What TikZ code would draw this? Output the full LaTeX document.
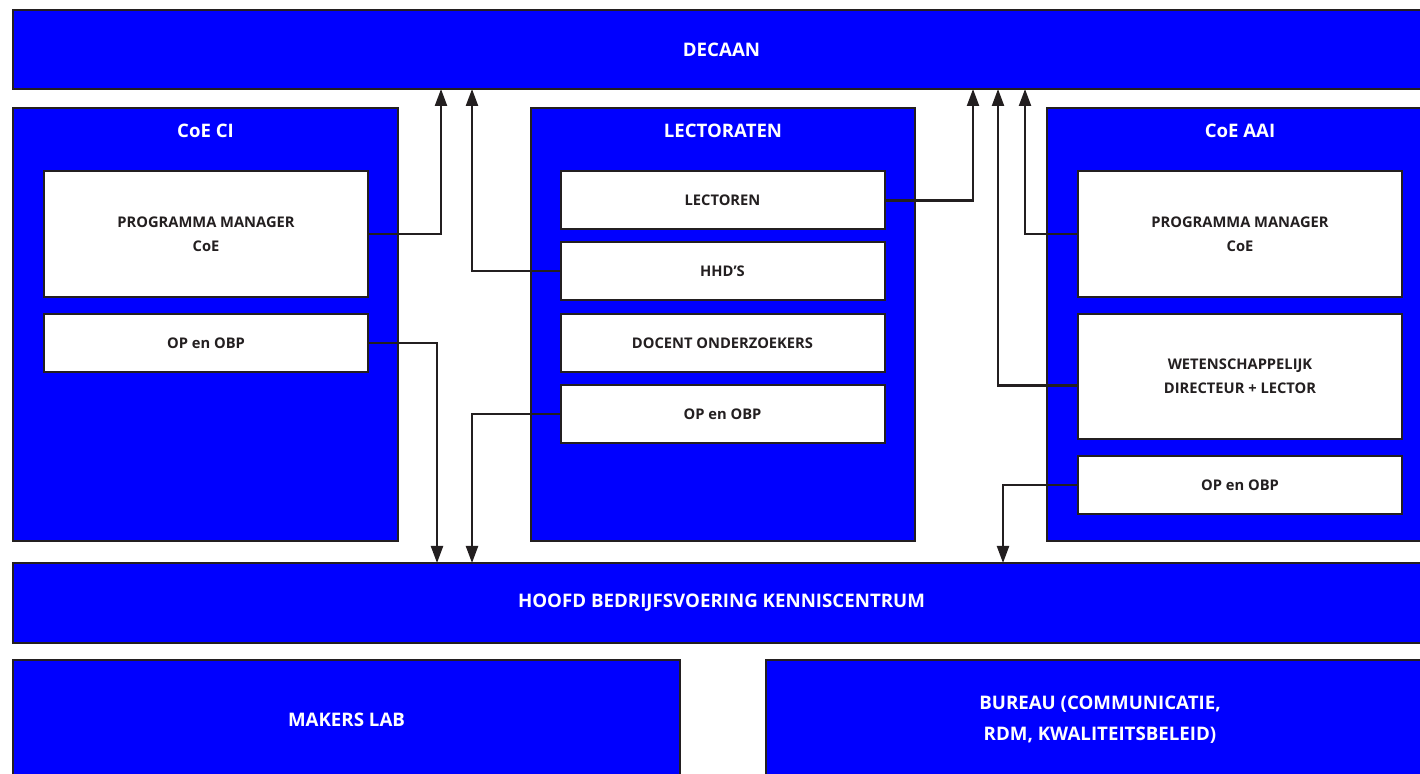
\documentclass[tikz,border=0pt]{standalone}
\usepackage{fontspec}
\setmainfont{Open Sans}
\usetikzlibrary{arrows.meta}
\definecolor{orgblue}{RGB}{0,0,255}
\definecolor{orgline}{RGB}{35,31,32}

\begin{document}
\begin{tikzpicture}[x=0.5pt,y=-0.5pt,
  bluebox/.style={draw=orgline,line width=1pt,fill=orgblue,inner sep=0pt,outer sep=0pt,
    text=white,font=\fontsize{9.35}{15.5}\selectfont\bfseries,align=center},
  whitebox/.style={draw=orgline,line width=1pt,fill=white,inner sep=0pt,outer sep=0pt,
    minimum width=162pt,text=orgline,font=\fontsize{7.35}{12}\selectfont\bfseries,align=center},
  boxtitle/.style={text=white,font=\fontsize{9.3}{14}\selectfont\bfseries},
  arr/.style={draw=orgline,line width=1.1pt,-{Triangle[width=6pt,length=8.5pt]}}]
\useasboundingbox (0,0) rectangle (1420,774);
\clip (0,0) rectangle (1420,774);
% top and bottom bars
\node (dec) [bluebox,minimum width=708.5pt,minimum height=39.5pt] at (721.5,49.5) {DECAAN};
\node (hoofd) [bluebox,minimum width=708.5pt,minimum height=40pt] at (721.5,603) {HOOFD BEDRIJFSVOERING KENNISCENTRUM};
\node (makers) [bluebox,minimum width=333.5pt,minimum height=60pt] at (346.5,720) {MAKERS LAB};
\node (bureau) [bluebox,minimum width=334pt,minimum height=60pt] at (1100,720) {BUREAU (COMMUNICATIE,\\RDM, KWALITEITSBELEID)};
% the three columns
\node (coeci) [bluebox,minimum width=192.5pt,minimum height=216.5pt] at (205.5,324.5) {};
\node (lect) [bluebox,minimum width=192pt,minimum height=216.5pt] at (723,324.5) {};
\node (coeaai) [bluebox,minimum width=193pt,minimum height=216.5pt] at (1240,324.5) {};
\node (tci) [boxtitle] at (205.5,131) {CoE CI};
\node (tlect) [boxtitle] at (723,131) {LECTORATEN};
\node (taai) [boxtitle] at (1240,131) {CoE AAI};
% CoE CI
\node (pmci) [whitebox,minimum height=63pt] at (206,234) {PROGRAMMA MANAGER\\CoE};
\node (opci) [whitebox,minimum height=29pt] at (206,343) {OP en OBP};
% Lectoraten
\node (lectoren) [whitebox,minimum height=29pt] at (722.5,200.5) {LECTOREN};
\node (hhd) [whitebox,minimum height=29pt] at (722.5,271) {HHD’S};
\node (docent) [whitebox,minimum height=29pt] at (722.5,343) {DOCENT ONDERZOEKERS};
\node (oplect) [whitebox,minimum height=29pt] at (722.5,414) {OP en OBP};
% CoE AAI
\node (pmaai) [whitebox,minimum height=63pt] at (1240,234) {PROGRAMMA MANAGER\\CoE};
\node (wet) [whitebox,minimum height=62.5pt] at (1240,376.5) {WETENSCHAPPELIJK\\DIRECTEUR + LECTOR};
\node (opaai) [whitebox,minimum height=29pt] at (1240,485) {OP en OBP};
% x positions of the vertical lines
\coordinate (xa) at (441,0);
\coordinate (xb) at (437,0);
\coordinate (xc) at (472,0);
\coordinate (xd) at (973,0);
\coordinate (xe) at (998,0);
\coordinate (xf) at (1025,0);
\coordinate (xg) at (1003,0);
% up to decaan
\draw[arr] (pmci.east) -| (xa |- dec.south);
\draw[arr] (hhd.west) -| (xc |- dec.south);
\draw[arr] (lectoren.east) -| (xd |- dec.south);
\draw[arr] ([yshift=-4.5pt]wet.west) -| (xe |- dec.south);
\draw[arr] (pmaai.west) -| (xf |- dec.south);
% down to hoofd bedrijfsvoering
\draw[arr] (opci.east) -| (xb |- hoofd.north);
\draw[arr] (oplect.west) -| (xc |- hoofd.north);
\draw[arr] (opaai.west) -| (xg |- hoofd.north);
\end{tikzpicture}
\end{document}
